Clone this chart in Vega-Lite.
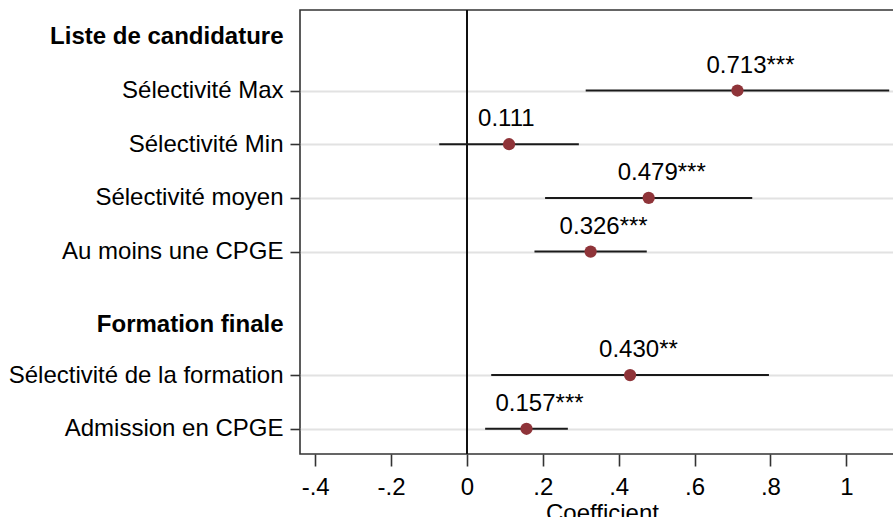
{
  "$schema": "https://vega.github.io/schema/vega-lite/v6.json",
  "width": 604,
  "height": 444,
  "autosize": {"type": "none"},
  "padding": {"left": 300, "top": 10, "right": 0, "bottom": 63},
  "config": {
    "view": {"stroke": "#333333", "strokeWidth": 1.6},
    "font": "Liberation Sans"
  },
  "data": {
    "values": [
      {"item": "Sélectivité Max", "pos": 1, "coef": 0.713, "lo": 0.313, "hi": 1.113, "lab": "0.713***"},
      {"item": "Sélectivité Min", "pos": 2, "coef": 0.111, "lo": -0.073, "hi": 0.295, "lab": "0.111"},
      {"item": "Sélectivité moyen", "pos": 3, "coef": 0.479, "lo": 0.206, "hi": 0.752, "lab": "0.479***"},
      {"item": "Au moins une CPGE", "pos": 4, "coef": 0.326, "lo": 0.178, "hi": 0.474, "lab": "0.326***"},
      {"item": "Sélectivité de la formation", "pos": 6.3, "coef": 0.43, "lo": 0.064, "hi": 0.796, "lab": "0.430**"},
      {"item": "Admission en CPGE", "pos": 7.3, "coef": 0.157, "lo": 0.048, "hi": 0.266, "lab": "0.157***"}
    ]
  },
  "layer": [
    {
      "mark": {"type": "rule", "color": "#111111", "strokeWidth": 1.6},
      "encoding": {
        "x": {"datum": 0, "type": "quantitative", "scale": {"domain": [-0.44, 1.152], "nice": false, "zero": false}}
      }
    },
    {
      "mark": {"type": "rule", "color": "#1a1a1a", "strokeWidth": 2},
      "encoding": {
        "x": {
          "field": "lo", "type": "quantitative",
          "scale": {"domain": [-0.44, 1.152], "nice": false, "zero": false},
          "axis": {
            "values": [-0.4, -0.2, 0, 0.2, 0.4, 0.6, 0.8, 1],
            "labelExpr": "(datum.value < 0 ? '-' : '') + replace(format(abs(datum.value), '~g'), '0.', '.')",
            "title": "Coefficient",
            "titleFontSize": 24,
            "titleFontWeight": "normal",
            "titleColor": "#000000",
            "titlePadding": 2,
            "labelFontSize": 24,
            "labelColor": "#000000",
            "labelPadding": 9,
            "labelFlush": false,
            "labelOverlap": false,
            "tickSize": 12,
            "tickColor": "#333333",
            "tickWidth": 1.6,
            "domain": false,
            "grid": false
          }
        },
        "x2": {"field": "hi"},
        "y": {
          "field": "pos", "type": "quantitative",
          "scale": {"domain": [-0.5, 7.77], "reverse": true, "nice": false, "zero": false},
          "axis": {
            "values": [0, 1, 2, 3, 4, 5.35, 6.3, 7.3],
            "labelExpr": "datum.value == 0 ? 'Liste de candidature' : datum.value == 1 ? 'Sélectivité Max' : datum.value == 2 ? 'Sélectivité Min' : datum.value == 3 ? 'Sélectivité moyen' : datum.value == 4 ? 'Au moins une CPGE' : datum.value == 5.35 ? 'Formation finale' : datum.value == 6.3 ? 'Sélectivité de la formation' : 'Admission en CPGE'",
            "labelFontWeight": {"condition": {"test": "datum.value == 0 || datum.value == 5.35", "value": "bold"}, "value": "normal"},
            "labelFontSize": 24,
            "labelColor": "#000000",
            "labelPadding": 7,
            "labelLimit": 0,
            "labelBaseline": "middle",
            "labelOverlap": false,
            "labelFlush": false,
            "tickSize": 10,
            "tickColor": "#333333",
            "tickWidth": 1.6,
            "tickOpacity": {"condition": {"test": "datum.value == 0 || datum.value == 5.35", "value": 0}, "value": 1},
            "grid": true,
            "gridColor": "#e2e2e2",
            "gridWidth": 1.8,
            "gridOpacity": {"condition": {"test": "datum.value == 0 || datum.value == 5.35", "value": 0}, "value": 1},
            "domain": false,
            "title": null
          }
        }
      }
    },
    {
      "mark": {"type": "circle", "size": 150, "opacity": 1, "color": "#8F3439"},
      "encoding": {
        "x": {"field": "coef", "type": "quantitative"},
        "y": {"field": "pos", "type": "quantitative"}
      }
    },
    {
      "mark": {"type": "text", "align": "left", "baseline": "alphabetic", "dx": -31, "dy": -18, "fontSize": 24, "color": "#000000"},
      "encoding": {
        "x": {"field": "coef", "type": "quantitative"},
        "y": {"field": "pos", "type": "quantitative"},
        "text": {"field": "lab"}
      }
    }
  ]
}
